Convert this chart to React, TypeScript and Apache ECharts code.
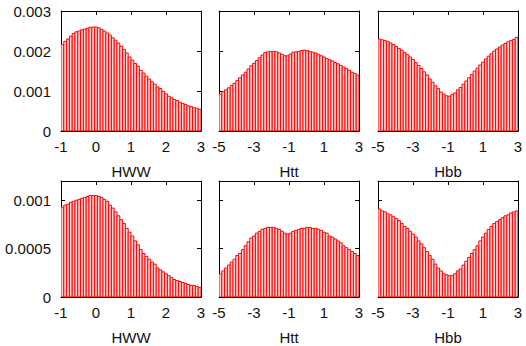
import React, { useEffect, useRef } from "react";
import * as echarts from "echarts";

// Panel names (x-axis titles)
const panelNames = ["HWW", "Htt", "Hbb", "HWW", "Htt", "Hbb"];
// x ranges of each column
const hwwRange = [-1, 3];
const httRange = [-5, 3];
const hbbRange = [-5, 3];
const hwwTicks = [-1, 0, 1, 2, 3];
const httTicks = [-5, -3, -1, 1, 3];
const hbbTicks = [-5, -3, -1, 1, 3];
// y ranges per row
const topRowY = [0, 0.003];
const topRowTicks = [0, 0.001, 0.002, 0.003];
const bottomRowY = [0, 0.0012];
const bottomRowTicks = [0, 0.0005, 0.001];

// Histogram contents (50 bins each)
const hwwTop = [
  0.00216, 0.00224, 0.0023, 0.00237, 0.00244, 0.00248, 0.0025, 0.00253, 0.00255, 0.00257,
  0.00259, 0.0026, 0.0026, 0.00258, 0.00254, 0.0025, 0.00245, 0.0024, 0.00233, 0.00227,
  0.0022, 0.00212, 0.00204, 0.00195, 0.00185, 0.00177, 0.00169, 0.00162, 0.00152, 0.00145,
  0.00137, 0.0013, 0.00123, 0.00117, 0.0011, 0.00106, 0.00099, 0.00093, 0.00087, 0.00083,
  0.00079, 0.00076, 0.00072, 0.00069, 0.00066, 0.00063, 0.00061, 0.00058, 0.00057, 0.00054,
];
const httTop = [
  0.00092, 0.00098, 0.00103, 0.00108, 0.00114, 0.00119, 0.00126, 0.00133, 0.0014, 0.00147,
  0.00155, 0.00163, 0.00169, 0.00176, 0.00183, 0.0019, 0.00196, 0.00198, 0.00199, 0.00199,
  0.00198, 0.00195, 0.00192, 0.00188, 0.00188, 0.00192, 0.00197, 0.00198, 0.00199, 0.00201,
  0.00202, 0.00201, 0.00199, 0.00197, 0.00195, 0.00192, 0.00188, 0.00185, 0.00181, 0.00178,
  0.00175, 0.00171, 0.00168, 0.00164, 0.0016, 0.00156, 0.00152, 0.00147, 0.00144, 0.0014,
];
const hbbTop = [
  0.0023, 0.00228, 0.00226, 0.00224, 0.0022, 0.00216, 0.00211, 0.00206, 0.00202, 0.00196,
  0.00191, 0.00185, 0.00179, 0.00171, 0.00164, 0.00156, 0.00148, 0.0014, 0.0013, 0.00122,
  0.00113, 0.00106, 0.00097, 0.00092, 0.00088, 0.00087, 0.00091, 0.00095, 0.00103, 0.00109,
  0.00117, 0.00125, 0.00133, 0.00141, 0.0015, 0.00157, 0.00165, 0.00172, 0.0018, 0.00187,
  0.00193, 0.002, 0.00205, 0.0021, 0.00215, 0.00219, 0.00223, 0.00226, 0.00229, 0.00234,
];
const hwwBottom = [
  0.00093, 0.00095, 0.00096, 0.00098, 0.00099, 0.001, 0.00101, 0.00102, 0.00103, 0.00104,
  0.00105, 0.00105, 0.00105, 0.00104, 0.00103, 0.00101, 0.00099, 0.00095, 0.00092, 0.00088,
  0.00084, 0.0008, 0.00076, 0.00071, 0.00067, 0.00063, 0.00058, 0.00054, 0.00049, 0.00045,
  0.00042, 0.00039, 0.00036, 0.00034, 0.0003, 0.00028, 0.00026, 0.00024, 0.00022, 0.0002,
  0.00018, 0.00017, 0.00016, 0.00015, 0.00014, 0.00013, 0.00012, 0.00012, 0.00011, 0.0001,
];
const httBottom = [
  0.00024, 0.00027, 0.0003, 0.00033, 0.00036, 0.00039, 0.00043, 0.00045, 0.00049, 0.00053,
  0.00057, 0.00061, 0.00063, 0.00066, 0.00068, 0.0007, 0.00071, 0.00072, 0.00072, 0.00072,
  0.00071, 0.0007, 0.00068, 0.00066, 0.00065, 0.00066, 0.00068, 0.00069, 0.0007, 0.00071,
  0.00071, 0.00072, 0.00072, 0.00071, 0.00071, 0.0007, 0.00069, 0.00067, 0.00066, 0.00063,
  0.00062, 0.0006, 0.00058, 0.00056, 0.00053, 0.00051, 0.00049, 0.00047, 0.00045, 0.00043,
];
const hbbBottom = [
  0.00091, 0.00089, 0.00088, 0.00086, 0.00085, 0.00083, 0.00081, 0.00079, 0.00076, 0.00073,
  0.00071, 0.00068, 0.00065, 0.00062, 0.00058, 0.00055, 0.00051, 0.00047, 0.00043, 0.00039,
  0.00034, 0.0003, 0.00027, 0.00024, 0.00023, 0.00022, 0.00022, 0.00024, 0.00027, 0.00029,
  0.00033, 0.00037, 0.00041, 0.00045, 0.00049, 0.00053, 0.00058, 0.00062, 0.00066, 0.0007,
  0.00073, 0.00076, 0.00078, 0.0008, 0.00082, 0.00084, 0.00085, 0.00087, 0.00088, 0.00089,
];

const panelValues = [hwwTop, httTop, hbbTop, hwwBottom, httBottom, hbbBottom];
const colRanges = [hwwRange, httRange, hbbRange];
const colTicks = [hwwTicks, httTicks, hbbTicks];
const rowY = [topRowY, bottomRowY];
const rowTicks = [topRowTicks, bottomRowTicks];

const FONT = "'Liberation Sans', Arial, sans-serif";
const TEXT = "#111";
const FRAME = "#000";
const colLeft = [61, 219, 378];
const rowTop = [11, 181];
const PW = 140;
const PH = 120;

function buildOption() {
  const grid: any[] = [];
  const xAxis: any[] = [];
  const yAxis: any[] = [];
  const series: any[] = [];
  for (let p = 0; p < 6; p++) {
    const row = Math.floor(p / 3);
    const col = p % 3;
    grid.push({ left: colLeft[col], top: rowTop[row], width: PW, height: PH, containLabel: false });
    const [xmin, xmax] = colRanges[col];
    const ticks = colTicks[col];
    const [ymin, ymax] = rowY[row];
    const yt = rowTicks[row];
    const tickStyle = { show: true, inside: true, length: 4, lineStyle: { color: FRAME, width: 1 } };
    const lineStyle = { show: true, onZero: false, lineStyle: { color: FRAME, width: 1 } };
    xAxis.push({
      type: "value", gridIndex: p, position: "bottom", min: xmin, max: xmax,
      axisLine: lineStyle,
      axisTick: { ...tickStyle, customValues: ticks },
      axisLabel: { show: true, customValues: ticks, margin: 8, fontSize: 15, fontFamily: FONT, color: TEXT },
      splitLine: { show: false },
      name: panelNames[p], nameLocation: "middle", nameGap: 33,
      nameTextStyle: { fontSize: 15, fontFamily: FONT, color: TEXT },
    });
    xAxis.push({
      type: "value", gridIndex: p, position: "top", min: xmin, max: xmax,
      axisLine: lineStyle,
      axisTick: { ...tickStyle, customValues: ticks },
      axisLabel: { show: false, customValues: ticks },
      splitLine: { show: false },
    });
    yAxis.push({
      type: "value", gridIndex: p, position: "left", min: ymin, max: ymax,
      axisLine: lineStyle,
      axisTick: { ...tickStyle, customValues: yt },
      axisLabel: { show: col === 0, customValues: yt, margin: 10, fontSize: 15, fontFamily: FONT, color: TEXT },
      splitLine: { show: false },
    });
    yAxis.push({
      type: "value", gridIndex: p, position: "right", min: ymin, max: ymax,
      axisLine: lineStyle,
      axisTick: { ...tickStyle, customValues: yt },
      axisLabel: { show: false, customValues: yt },
      splitLine: { show: false },
    });
    const vals = panelValues[p];
    const n = vals.length;
    const bw = (xmax - xmin) / n;
    const data = vals.map((v, i) => [xmin + i * bw, xmin + (i + 1) * bw, v]);
    series.push({
      type: "custom",
      xAxisIndex: 2 * p,
      yAxisIndex: 2 * p,
      clip: true,
      encode: { x: [0, 1], y: 2 },
      data,
      renderItem: (params: any, api: any) => {
        const x0 = api.value(0);
        const x1 = api.value(1);
        const y = api.value(2);
        const a = api.coord([x0, y]);
        const b = api.coord([x1, 0]);
        return {
          type: "rect",
          shape: { x: a[0], y: a[1], width: b[0] - a[0], height: b[1] - a[1] },
          style: { fill: "#ffd4d4", stroke: "#ff0000", lineWidth: 1 },
        };
      },
    });
  }
  return { animation: false, backgroundColor: "#ffffff", grid, xAxis, yAxis, series };
}

export default function App() {
  const ref = useRef<HTMLDivElement>(null);
  useEffect(() => {
    document.body.style.margin = "0";
    if (!ref.current) return;
    const chart = echarts.init(ref.current, undefined, { renderer: "svg" });
    chart.setOption(buildOption() as any);
    return () => chart.dispose();
  }, []);
  return <div ref={ref} style={{ width: 526, height: 346 }} />;
}
